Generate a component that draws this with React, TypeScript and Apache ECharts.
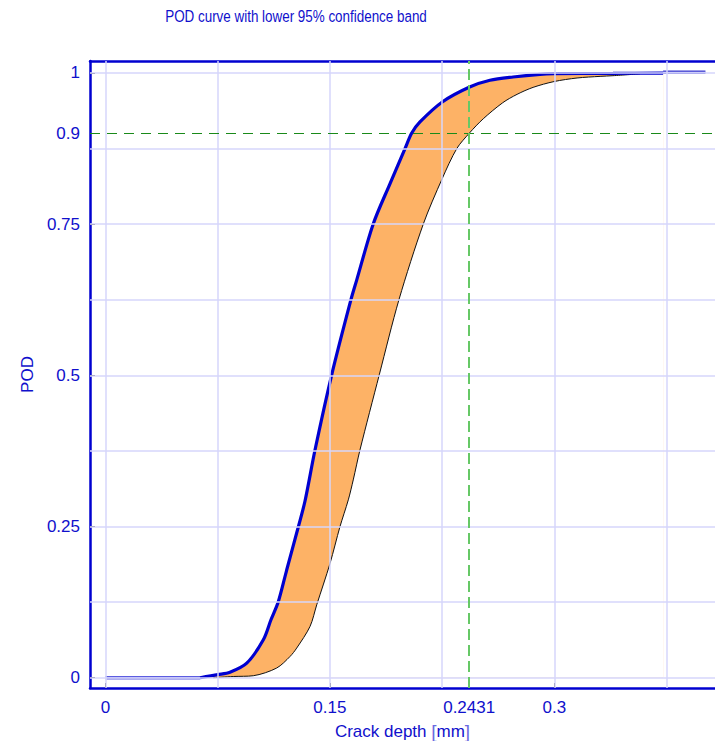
import React, { useEffect, useRef } from "react";
import * as echarts from "echarts";

// ---- data ----
const xTickValues = [0, 0.15, 0.2431, 0.3];
const yTickValues = [0, 0.25, 0.5, 0.75, 0.9, 1];
const xGridValues = [0, 0.075, 0.15, 0.225, 0.3, 0.375];
const yGridValues = [0, 0.125, 0.25, 0.375, 0.5, 0.625, 0.75, 0.875, 1];

const podStart: [number, number][] = [
  [0, 0],
  [0.0632, 0],
];
const podCurve: [number, number][] = [
  [0.0632, 0.0],
  [0.0752, 0.005],
  [0.0832, 0.009],
  [0.0944, 0.024],
  [0.1055, 0.0627],
  [0.1106, 0.0958],
  [0.1155, 0.1256],
  [0.1211, 0.178],
  [0.1289, 0.2495],
  [0.1334, 0.2925],
  [0.14, 0.376],
  [0.1512, 0.5008],
  [0.1641, 0.6253],
  [0.1679, 0.6573],
  [0.179, 0.7505],
  [0.1902, 0.8169],
  [0.2002, 0.8747],
  [0.2047, 0.9004],
  [0.2102, 0.9188],
  [0.2251, 0.9518],
  [0.2434, 0.9765],
  [0.257, 0.9876],
  [0.2724, 0.9931],
  [0.2904, 0.9975],
  [0.2998, 0.9985],
  [0.3392, 0.999],
  [0.3727, 0.9995],
];
const podEnd: [number, number][] = [
  [0.3727, 1.0008],
  [0.401, 1.0008],
];
const lowerBound: [number, number][] = [
  [0.072, 0.0],
  [0.0854, 0.002],
  [0.0988, 0.0033],
  [0.1144, 0.016],
  [0.1233, 0.035],
  [0.1278, 0.049],
  [0.1367, 0.0847],
  [0.1412, 0.1206],
  [0.1501, 0.1891],
  [0.1567, 0.2495],
  [0.1623, 0.294],
  [0.1656, 0.327],
  [0.1701, 0.3766],
  [0.183, 0.5008],
  [0.1962, 0.6253],
  [0.2124, 0.7498],
  [0.2251, 0.8253],
  [0.2348, 0.8747],
  [0.2431, 0.9],
  [0.2525, 0.924],
  [0.2655, 0.9505],
  [0.2751, 0.9644],
  [0.2858, 0.9759],
  [0.2998, 0.9855],
  [0.3152, 0.9914],
  [0.3306, 0.9941],
  [0.3392, 0.9952],
  [0.3573, 0.9983],
];
const a90Crack = 0.2431;
const podLevel = 0.9;

const BLUE = "#0000d0";
const TEXT = "#1010cc";
const FONT = "'Liberation Sans', Arial, sans-serif";
const SMOOTH = 0.3;

export default function App() {
  const ref = useRef<HTMLDivElement>(null);
  useEffect(() => {
    document.body.style.margin = "0";
    const chart = echarts.init(ref.current!, null, { renderer: "svg" });
    // white mask under the lower bound, closed onto the POD curve at both ends
    const lowerMask: [number, number][] = [podCurve[0]]
      .concat(lowerBound)
      .concat([podCurve[podCurve.length - 1]]);
    const option: any = {
      animation: false,
      backgroundColor: "#ffffff",
      graphic: [
        {
          type: "text",
          x: 296,
          y: 16,
          scaleX: 0.79,
          style: {
            text: "POD curve with lower 95% confidence band",
            fill: TEXT,
            font: "17px 'Liberation Sans', Arial, sans-serif",
            textAlign: "center",
            textVerticalAlign: "middle",
          },
        },
      ],
      grid: {
        left: 90,
        right: 0,
        top: 61,
        bottom: 53,
        containLabel: false,
        outerBoundsMode: "none",
      },
      xAxis: [
        {
          type: "value",
          min: -0.01036,
          max: 0.4074,
          name: "{a|Crack depth }{b|[}{a|mm}{b|]}",
          nameLocation: "middle",
          nameGap: 34,
          nameTextStyle: {
            rich: {
              a: { fontSize: 17, color: TEXT, fontFamily: FONT },
              b: { fontSize: 19, color: "#6a6ae0", fontFamily: FONT },
            },
          },
          axisLine: { show: true, onZero: false, lineStyle: { color: BLUE, width: 2.5 } },
          axisTick: {
            show: true,
            inside: true,
            length: 5,
            customValues: xTickValues,
            lineStyle: { color: "#333", width: 1 },
          },
          axisLabel: {
            customValues: xTickValues,
            color: TEXT,
            fontSize: 17,
            fontFamily: FONT,
            margin: 11,
            formatter: (v: number) => String(v),
          },
          splitLine: { show: false },
        },
        {
          type: "value",
          position: "top",
          min: -0.01036,
          max: 0.4074,
          axisLine: { show: true, onZero: false, lineStyle: { color: BLUE, width: 2.5 } },
          axisTick: { show: false },
          axisLabel: { show: false },
          splitLine: { show: false },
        },
      ],
      yAxis: {
        type: "value",
        min: -0.017,
        max: 1.0195,
        name: "POD",
        nameLocation: "middle",
        nameGap: 52,
        nameTextStyle: { fontSize: 17, color: TEXT, fontFamily: FONT },
        axisLine: { show: true, onZero: false, lineStyle: { color: BLUE, width: 2.5 } },
        axisTick: {
          show: true,
          inside: true,
          length: 5,
          customValues: yTickValues,
          lineStyle: { color: "#333", width: 1 },
        },
        axisLabel: {
          customValues: yTickValues,
          color: TEXT,
          fontSize: 17,
          fontFamily: FONT,
          margin: 10,
          formatter: (v: number) => String(v),
        },
        splitLine: { show: false },
      },
      series: [
        // orange fill under the POD curve
        {
          type: "line",
          z: 1,
          silent: true,
          data: podCurve,
          symbol: "none",
          smooth: SMOOTH,
          lineStyle: { width: 0, opacity: 0 },
          areaStyle: { color: "#fdb266", opacity: 1 },
        },
        // white mask under the lower bound
        {
          type: "line",
          z: 1,
          silent: true,
          data: lowerMask,
          symbol: "none",
          smooth: SMOOTH,
          lineStyle: { width: 0, opacity: 0 },
          areaStyle: { color: "#ffffff", opacity: 1 },
        },
        {
          type: "line",
          z: 2,
          silent: true,
          data: [],
          symbol: "none",
          markLine: {
            silent: true,
            precision: 6,
            symbol: ["none", "none"],
            label: { show: false },
            lineStyle: { type: "solid", color: "#d6d6fb", width: 1.5 },
            data: [
              ...xGridValues.map((v) => ({ xAxis: v })),
              ...yGridValues.map((v) => ({ yAxis: v })),
            ],
          },
        },
        {
          type: "line",
          z: 3,
          silent: true,
          data: podStart,
          symbol: "none",
          lineStyle: { color: "#5c5ce0", width: 3.5 },
        },
        {
          type: "line",
          z: 3,
          silent: true,
          data: podStart,
          symbol: "none",
          lineStyle: { color: "#a8a8f0", width: 1 },
        },
        {
          type: "line",
          z: 3,
          silent: true,
          data: podEnd,
          symbol: "none",
          lineStyle: { color: "#3c3cd0", width: 3.5 },
        },
        {
          type: "line",
          z: 3,
          silent: true,
          data: podEnd,
          symbol: "none",
          lineStyle: { color: "#d8d8ff", width: 1 },
        },
        {
          type: "line",
          z: 3,
          silent: true,
          data: lowerBound,
          symbol: "none",
          smooth: SMOOTH,
          lineStyle: { color: "#111", width: 1 },
        },
        {
          type: "line",
          z: 4,
          silent: true,
          data: podCurve,
          symbol: "none",
          smooth: SMOOTH,
          lineStyle: { color: BLUE, width: 3.2 },
        },
        {
          type: "line",
          z: 5,
          silent: true,
          data: [],
          symbol: "none",
          markLine: {
            silent: true,
            precision: 6,
            symbol: ["none", "none"],
            label: { show: false },
            data: [
              {
                yAxis: podLevel,
                lineStyle: { type: [10, 7], color: "#1a8a1a", width: 1 },
              },
              {
                xAxis: a90Crack,
                lineStyle: { type: [11, 5], color: "#66c866", width: 2 },
              },
            ],
          },
        },
      ],
    };
    chart.setOption(option);
    return () => chart.dispose();
  }, []);
  return <div ref={ref} style={{ width: 715, height: 741 }} />;
}
